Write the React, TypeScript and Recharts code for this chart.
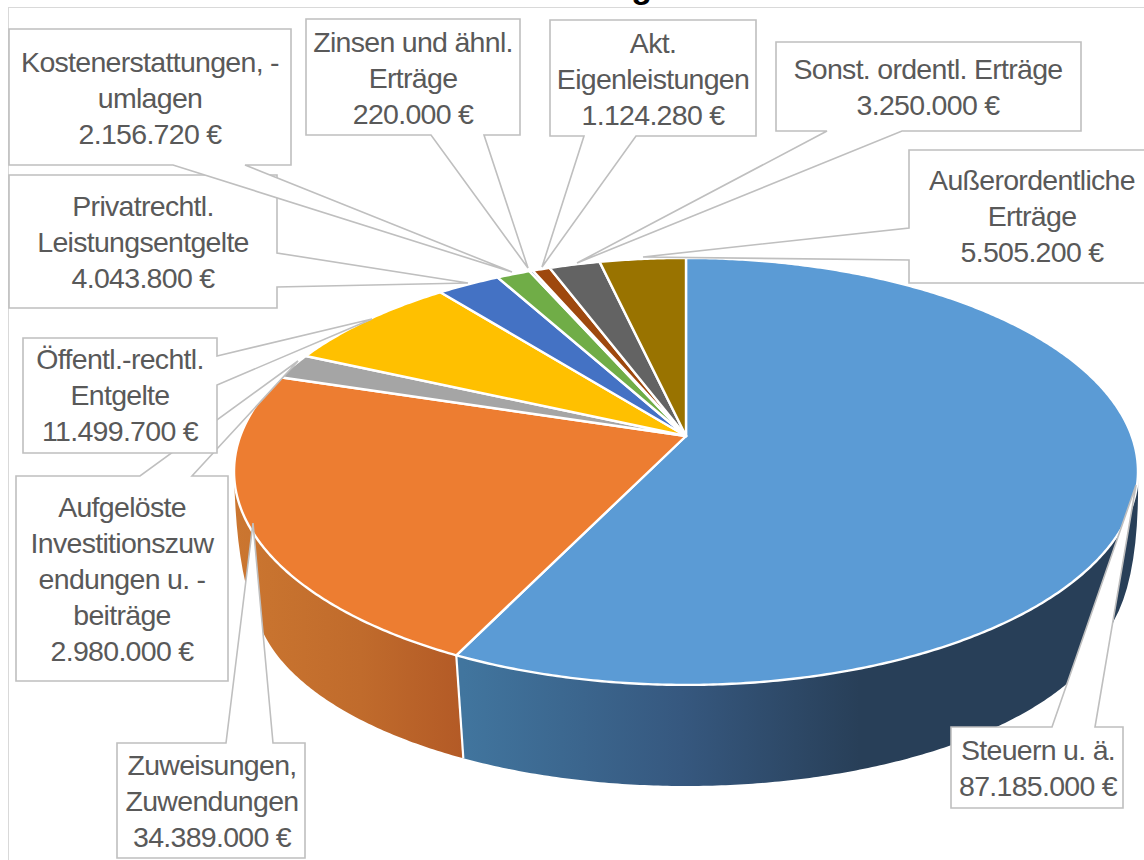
import React from 'react';
import { PieChart, Pie, Cell } from 'recharts';

const categories = [
  'Steuern u. ä.',
  'Zuweisungen, Zuwendungen',
  'Aufgelöste Investitionszuwendungen u. -beiträge',
  'Öffentl.-rechtl. Entgelte',
  'Privatrechtl. Leistungsentgelte',
  'Kostenerstattungen, -umlagen',
  'Zinsen und ähnl. Erträge',
  'Akt. Eigenleistungen',
  'Sonst. ordentl. Erträge',
  'Außerordentliche Erträge',
];
const values = [87185000, 34389000, 2980000, 11499700, 4043800, 2156720, 220000, 1124280, 3250000, 5505200];
const colors = ['#5b9bd5', '#ed7d31', '#a5a5a5', '#ffc000', '#4472c4', '#70ad47', '#255e91', '#9e480e', '#636363', '#997300'];
const labelLines = [
  ['Steuern u. ä.'],
  ['Zuweisungen,', 'Zuwendungen'],
  ['Aufgelöste', 'Investitionszuw', 'endungen u. -', 'beiträge'],
  ['Öffentl.-rechtl.', 'Entgelte'],
  ['Privatrechtl.', 'Leistungsentgelte'],
  ['Kostenerstattungen, -', 'umlagen'],
  ['Zinsen und ähnl.', 'Erträge'],
  ['Akt.', 'Eigenleistungen'],
  ['Sonst. ordentl. Erträge'],
  ['Außerordentliche', 'Erträge'],
];
const title = 'Erträge';

const data = categories.map((name, i) => ({ name, value: values[i] }));

// Perspective projection of the pie's top and bottom planes
const CX = 686;
const TOP = { y0: 436, A: 207.6, B: 445.7, p: 0.166 };
const BOTTOM = { y0: 556.5, A: 188.2, B: 425.6, p: 0.18 };
type Plane = typeof TOP;
const project = (pl: Plane, deg: number): [number, number] => {
  const t = (deg * Math.PI) / 180;
  const d = 1 + pl.p * Math.cos(t);
  return [CX + (pl.B * Math.sin(t)) / d, pl.y0 - (pl.A * Math.cos(t)) / d];
};
const arc = (pl: Plane, from: number, to: number) => {
  const n = Math.max(2, Math.ceil(Math.abs(to - from) * 2));
  const out: string[] = [];
  for (let i = 0; i <= n; i++) {
    const [x, y] = project(pl, from + ((to - from) * i) / n);
    out.push(`${x.toFixed(2)} ${y.toFixed(2)}`);
  }
  return out;
};

const TopSlice = (props: any) => {
  const a0 = 90 - props.startAngle;
  const a1 = 90 - props.endAngle;
  const d = `M${CX} ${TOP.y0} L${arc(TOP, a0, a1).join(' L')} Z`;
  return <path d={d} fill={props.fill} stroke="#fff" strokeWidth={2.4} strokeLinejoin="round" />;
};

// Front wall limits, in degrees clockwise from the top of the pie
const WALL_TOP_FROM = 99.5;
const WALL_TOP_TO = 260.5;
const WALL_BOTTOM_FROM = 108.8;
const WALL_BOTTOM_TO = 249;
const wallGradients = [
  { x1: 463, x2: 860, stops: ['#41759e', '#36587f', '#283f58'], bend: 'Q1140 575' },
  { x1: 236, x2: 463, stops: ['#cb7630', '#c06b2c', '#b35a26'], bend: 'Q236 580' },
];

const WallSlice = (props: any) => {
  const i = values.indexOf(props.value);
  const g = wallGradients[i];
  if (!g) return null;
  const a0 = 90 - props.startAngle;
  const a1 = 90 - props.endAngle;
  const id = `wall-${i}`;
  const top = arc(TOP, Math.max(a0, WALL_TOP_FROM), Math.min(a1, WALL_TOP_TO));
  const bot = arc(BOTTOM, Math.min(a1, WALL_BOTTOM_TO), Math.max(a0, WALL_BOTTOM_FROM));
  const d =
    i === 0
      ? `M${top.join(' L')} L${bot.join(' L')} ${g.bend} ${top[0]} Z`
      : `M${top.join(' L')} ${g.bend} ${bot[0]} L${bot.join(' L')} Z`;
  return (
    <g>
      <defs>
        <linearGradient id={id} gradientUnits="userSpaceOnUse" x1={g.x1} x2={g.x2} y1={0} y2={0}>
          <stop offset="0%" stopColor={g.stops[0]} />
          <stop offset="55%" stopColor={g.stops[1]} />
          <stop offset="100%" stopColor={g.stops[2]} />
        </linearGradient>
      </defs>
      <path d={d} fill={`url(#${id})`} />
      {i === 1 ? <path d={`M${top[0]} L${bot[bot.length - 1]}`} stroke="#fff" strokeWidth={2.2} fill="none" /> : null}
    </g>
  );
};

// Callout boxes: outline with pointer, text centre, first baseline
const callouts = [
  { pts: '951,727 1052,727 1136,485 1095,727 1123,727 1123,808 951,808', cx: 1038, y: 760 },
  { pts: '117,743 226,743 253,523 273,743 305,743 305,858 117,858', cx: 212, y: 775 },
  { pts: '16,476 140,476 298,361 192,476 228,476 228,681 16,681', cx: 122, y: 517 },
  { pts: '23,338 217,338 217,356 372,319 217,385 217,453 23,453', cx: 120, y: 369 },
  { pts: '9,175 277,175 277,253 468,283 277,287 277,308 9,308', cx: 143, y: 216 },
  { pts: '9,29 291,29 291,165 245,165 512,272 173,165 9,165', cx: 150, y: 72 },
  { pts: '306,19 520,19 520,135 484,135 528,268 431,135 306,135', cx: 413, y: 52 },
  { pts: '550,20 756,20 756,136 636,136 542,267 584,136 550,136', cx: 653, y: 53 },
  { pts: '776,42 1081,42 1081,131 902,131 577,263 827,131 776,131', cx: 928, y: 79 },
  { pts: '909,150 1160,150 1160,283 909,283 909,260 643,257 909,228', cx: 1032, y: 190 },
];

const fmt = (v: number) => `${v.toLocaleString('de-DE')} €`;

const Callout = (props: any) => {
  const i = props.index;
  const c = callouts[i];
  const lines = [...labelLines[i], fmt(values[i])];
  return (
    <g key={i}>
      <polygon points={c.pts} fill="#fff" stroke="#bfbfbf" strokeWidth={1.6} />
      <text textAnchor="middle" fontFamily="'Liberation Sans', Arial, sans-serif" fontSize={28.5} letterSpacing={-0.7} fill="#595959">
        {lines.map((t, k) => (
          <tspan key={k} x={c.cx} y={c.y + k * 36}>
            {t}
          </tspan>
        ))}
      </text>
    </g>
  );
};

export default function App() {
  return (
    <div style={{ position: 'absolute', left: 0, top: 0, width: 1144, height: 860, overflow: 'hidden', background: '#fff' }}>
      <div style={{ position: 'absolute', left: 8, top: 7, width: 1300, height: 1000, border: '1.5px solid #d9d9d9' }} />
      <div
        style={{
          position: 'absolute',
          left: 471,
          width: 200,
          top: -31,
          height: 36,
          overflow: 'hidden',
          textAlign: 'right',
          fontFamily: "'Liberation Sans', Arial, sans-serif",
          fontWeight: 700,
          fontSize: 34,
          lineHeight: '40px',
          color: '#000',
        }}
      >
        <span style={{ position: 'relative', top: -3 }}>{title}</span>
      </div>
      <div style={{ position: 'absolute', left: 0, top: 0 }}>
        <PieChart width={1144} height={860} margin={{ top: 0, right: 0, bottom: 0, left: 0 }}>
          <Pie
            data={data}
            dataKey="value"
            nameKey="name"
            cx={CX}
            cy={TOP.y0}
            outerRadius={208}
            startAngle={90}
            endAngle={-270}
            isAnimationActive={false}
            shape={WallSlice}
            stroke="none"
          />
          <Pie
            data={data}
            dataKey="value"
            nameKey="name"
            cx={CX}
            cy={TOP.y0}
            outerRadius={208}
            startAngle={90}
            endAngle={-270}
            isAnimationActive={false}
            shape={TopSlice}
            label={Callout}
            labelLine={false}
          >
            {data.map((d, i) => (
              <Cell key={d.name} fill={colors[i]} />
            ))}
          </Pie>
        </PieChart>
      </div>
    </div>
  );
}
